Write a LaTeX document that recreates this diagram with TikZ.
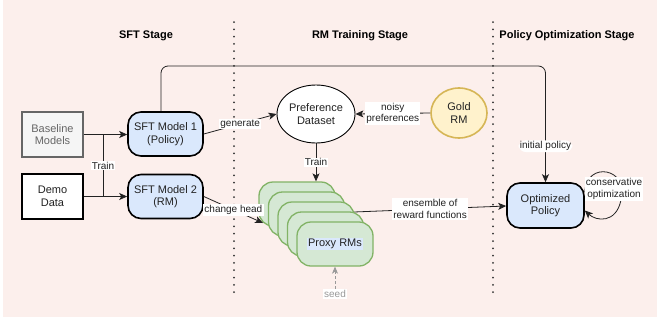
\documentclass[tikz,border=0pt]{standalone}
\usepackage{fontspec}
\setmainfont{Liberation Sans}
\usetikzlibrary{arrows.meta,shapes.geometric,calc}
\definecolor{bgpink}{RGB}{252,239,236}
\definecolor{bluefill}{RGB}{218,232,252}
\definecolor{greenfill}{RGB}{213,232,212}
\definecolor{greenline}{RGB}{130,179,102}
\definecolor{goldfill}{RGB}{255,242,204}
\definecolor{goldline}{RGB}{214,182,86}
\definecolor{grayfill}{RGB}{245,245,245}
\definecolor{grayline}{RGB}{102,102,102}
\definecolor{txt}{RGB}{34,34,34}
\definecolor{seedgray}{RGB}{153,153,153}
\tikzset{
  every node/.style={text=txt},
  nodetext/.style={font=\fontsize{11}{12.5}\selectfont, align=center, inner sep=0pt},
  title/.style={font=\bfseries\fontsize{11}{13}\selectfont, text=black},
  squarebox/.style={nodetext, draw=black, line width=1.6pt, fill=white, minimum width=61pt, minimum height=45pt},
  graybox/.style={nodetext, draw=grayline, line width=1.6pt, fill=grayfill, text=grayline, minimum width=61pt, minimum height=45pt},
  modelbox/.style={nodetext, draw=black, line width=1.6pt, fill=bluefill, rounded corners=13pt, minimum width=75pt, minimum height=44pt},
  proxybox/.style={nodetext, draw=greenline, line width=1.3pt, fill=greenfill, rounded corners=14pt, minimum width=76pt, minimum height=44pt},
  lbl/.style={font=\fontsize{10}{11.5}\selectfont, fill=white, inner sep=1.2pt, align=center},
  conn/.style={draw=txt, line width=0.8pt, -{Stealth[length=8pt,width=7pt,inset=2pt]}},
  plainline/.style={draw=txt, line width=0.8pt},
  sep/.style={draw=black!80, line width=2pt, line cap=round, dash pattern=on 0pt off 7.3pt}
}
\begin{document}
\begin{tikzpicture}[x=1pt,y=-1pt]
\useasboundingbox (0,0) rectangle (657,322);
\fill[bgpink] (3,0) rectangle (657,317);

% stage separators
\draw[sep] (234,22) -- (234,296);
\draw[sep] (493,22) -- (493,296);

% titles
\node[title] (t1) at (146,36) {SFT Stage};
\node[title] (t2) at (360,36) {RM Training Stage};
\node[title] (t3) at (567,36) {Policy Optimization Stage};

% nodes
\node[graybox] (base) at (52.5,134.5) {Baseline\\Models};
\node[squarebox] (demo) at (52.5,196.5) {Demo\\Data};
\node[modelbox] (sft1) at (165.5,134) {SFT Model 1\\(Policy)};
\node[modelbox] (sft2) at (165.5,196.5) {SFT Model 2\\(RM)};
\node[nodetext, ellipse, draw=black, line width=0.9pt, fill=white, minimum width=78pt, minimum height=58pt] (pref) at (316,114) {Preference\\Dataset};
\node[nodetext, ellipse, draw=goldline, line width=1.6pt, fill=goldfill, minimum width=56pt, minimum height=50pt] (gold) at (459,113) {Gold\\RM};
\node[modelbox, minimum width=77pt, minimum height=45pt] (op) at (545.5,205.5) {Optimized\\Policy};

% proxy RM stack
\node[proxybox] (p1) at (297,204) {};
\node[proxybox] (p2) at (306.5,214) {};
\node[proxybox] (p3) at (316,224) {};
\coordinate (ensstart) at (354,212);
\draw[conn] (ensstart) -- (op.west |- 0,206) node[midway, lbl] {ensemble of\\reward functions};
\node[proxybox] (p4) at (325.5,234) {};
\node[proxybox] (p5) at (335,244) {\setlength\fboxsep{1pt}\colorbox{bluefill}{Proxy RMs}};

% SFT stage connectors
\draw[conn] (base) -- (sft1.west |- base);
\draw[conn] (demo) -- (sft2.west |- demo);
\coordinate (trtop) at (103,134.5);
\coordinate (trbot) at (103,196.5);
\draw[plainline] (trbot) -- (trtop) node[pos=0.5, lbl] {Train};

% top connector to optimized policy
\coordinate (topy) at (0,66);
\draw[conn, rounded corners=7pt] ([xshift=-4.5pt]sft1.north) |- (op.north |- topy) -- (op.north) node[pos=0.69, lbl] {initial policy};

% RM stage connectors
\draw[conn] (sft1.east) -- (pref.west) node[midway, lbl] {generate};
\draw[conn] (gold.west) -- (pref.east) node[midway, lbl] {noisy\\preferences};
\draw[conn] (pref.south) -- (pref.south |- p1.north) node[midway, lbl] {Train};
\coordinate (chend) at (263,223);
\draw[conn] (sft2.east) -- (chend) node[pos=0.5, lbl] {change head};

% seed
\node[font=\fontsize{10}{11.5}\selectfont, text=seedgray, fill=white, inner sep=1.2pt] (seed) at (335,294) {seed};
\draw[draw=seedgray, line width=0.8pt, dashed, dash pattern=on 3pt off 2pt, -{Stealth[length=7pt,width=6pt,inset=2pt]}] (seed.north) -- (p5.south);

% self loop
\draw[conn] ([yshift=13pt]op.east) .. controls (586,160) and (630,168) .. (621,200) .. controls (616,224) and (596,221) .. ([yshift=-5pt]op.east);
\node[lbl] (cons) at (614,189) {conservative\\optimization};
\end{tikzpicture}
\end{document}
